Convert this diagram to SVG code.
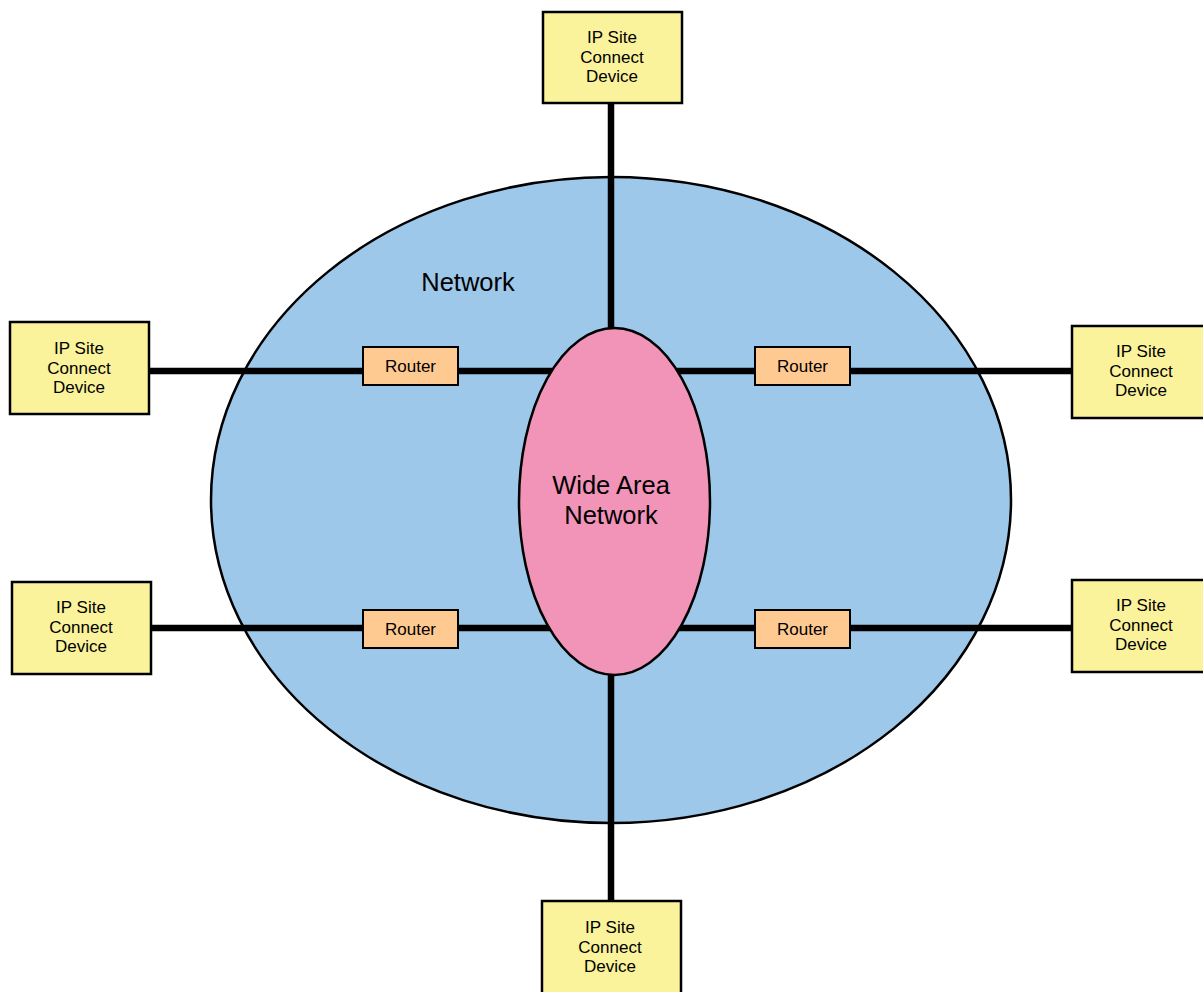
<svg xmlns="http://www.w3.org/2000/svg" width="1203" height="992" viewBox="0 0 1203 992">
<style>
.site{fill:#FAF39B;stroke:#000;stroke-width:2.5}
.router{fill:#FFC992;stroke:#000;stroke-width:2}
.t{font-family:"Liberation Sans",Arial,sans-serif;fill:#000;text-anchor:middle}
.s{font-size:17px}
.r{font-size:17px}
.big{font-size:25.5px}
.link{stroke:#000;stroke-width:6.5;fill:none}
</style>
<rect width="1203" height="992" fill="#fff"/>
<g id="network">
<ellipse cx="611" cy="500" rx="400" ry="323" fill="#9DC8EA" stroke="#000" stroke-width="2.5"/>
<text class="t big" x="468" y="291">Network</text>
</g>
<g id="connectors">
<line class="link" x1="611" y1="103" x2="611" y2="340"/>
<line class="link" x1="611" y1="665" x2="611" y2="901"/>
<line class="link" x1="149" y1="371" x2="1072" y2="371"/>
<line class="link" x1="151" y1="628" x2="1072" y2="628"/>
</g>
<g id="wan">
<ellipse cx="614.5" cy="501.5" rx="95.5" ry="173.5" fill="#F293B8" stroke="#000" stroke-width="2.5"/>
<text class="t big" x="611" y="494">Wide Area</text>
<text class="t big" x="611" y="524">Network</text>
</g>
<g id="router-tl"><rect class="router" x="363" y="347" width="95" height="38"/><text class="t r" x="410.5" y="372">Router</text></g>
<g id="router-tr"><rect class="router" x="755" y="347" width="95" height="38"/><text class="t r" x="802.5" y="372">Router</text></g>
<g id="router-bl"><rect class="router" x="363" y="610" width="95" height="38"/><text class="t r" x="410.5" y="635">Router</text></g>
<g id="router-br"><rect class="router" x="755" y="610" width="95" height="38"/><text class="t r" x="802.5" y="635">Router</text></g>
<g id="site-top"><rect class="site" x="543" y="12" width="139" height="91"/>
<text class="t s" x="612" y="43">IP Site</text><text class="t s" x="612" y="63">Connect</text><text class="t s" x="612" y="82">Device</text></g>
<g id="site-lt"><rect class="site" x="10" y="322" width="139" height="92"/>
<text class="t s" x="79" y="354">IP Site</text><text class="t s" x="79" y="374">Connect</text><text class="t s" x="79" y="393">Device</text></g>
<g id="site-rt"><rect class="site" x="1072" y="326" width="140" height="92"/>
<text class="t s" x="1141" y="357">IP Site</text><text class="t s" x="1141" y="377">Connect</text><text class="t s" x="1141" y="396">Device</text></g>
<g id="site-lb"><rect class="site" x="12" y="582" width="139" height="92"/>
<text class="t s" x="81" y="613">IP Site</text><text class="t s" x="81" y="633">Connect</text><text class="t s" x="81" y="652">Device</text></g>
<g id="site-rb"><rect class="site" x="1072" y="580" width="140" height="92"/>
<text class="t s" x="1141" y="611">IP Site</text><text class="t s" x="1141" y="631">Connect</text><text class="t s" x="1141" y="650">Device</text></g>
<g id="site-bottom"><rect class="site" x="542" y="901" width="139" height="100"/>
<text class="t s" x="610" y="933">IP Site</text><text class="t s" x="610" y="953">Connect</text><text class="t s" x="610" y="972">Device</text></g>
</svg>
